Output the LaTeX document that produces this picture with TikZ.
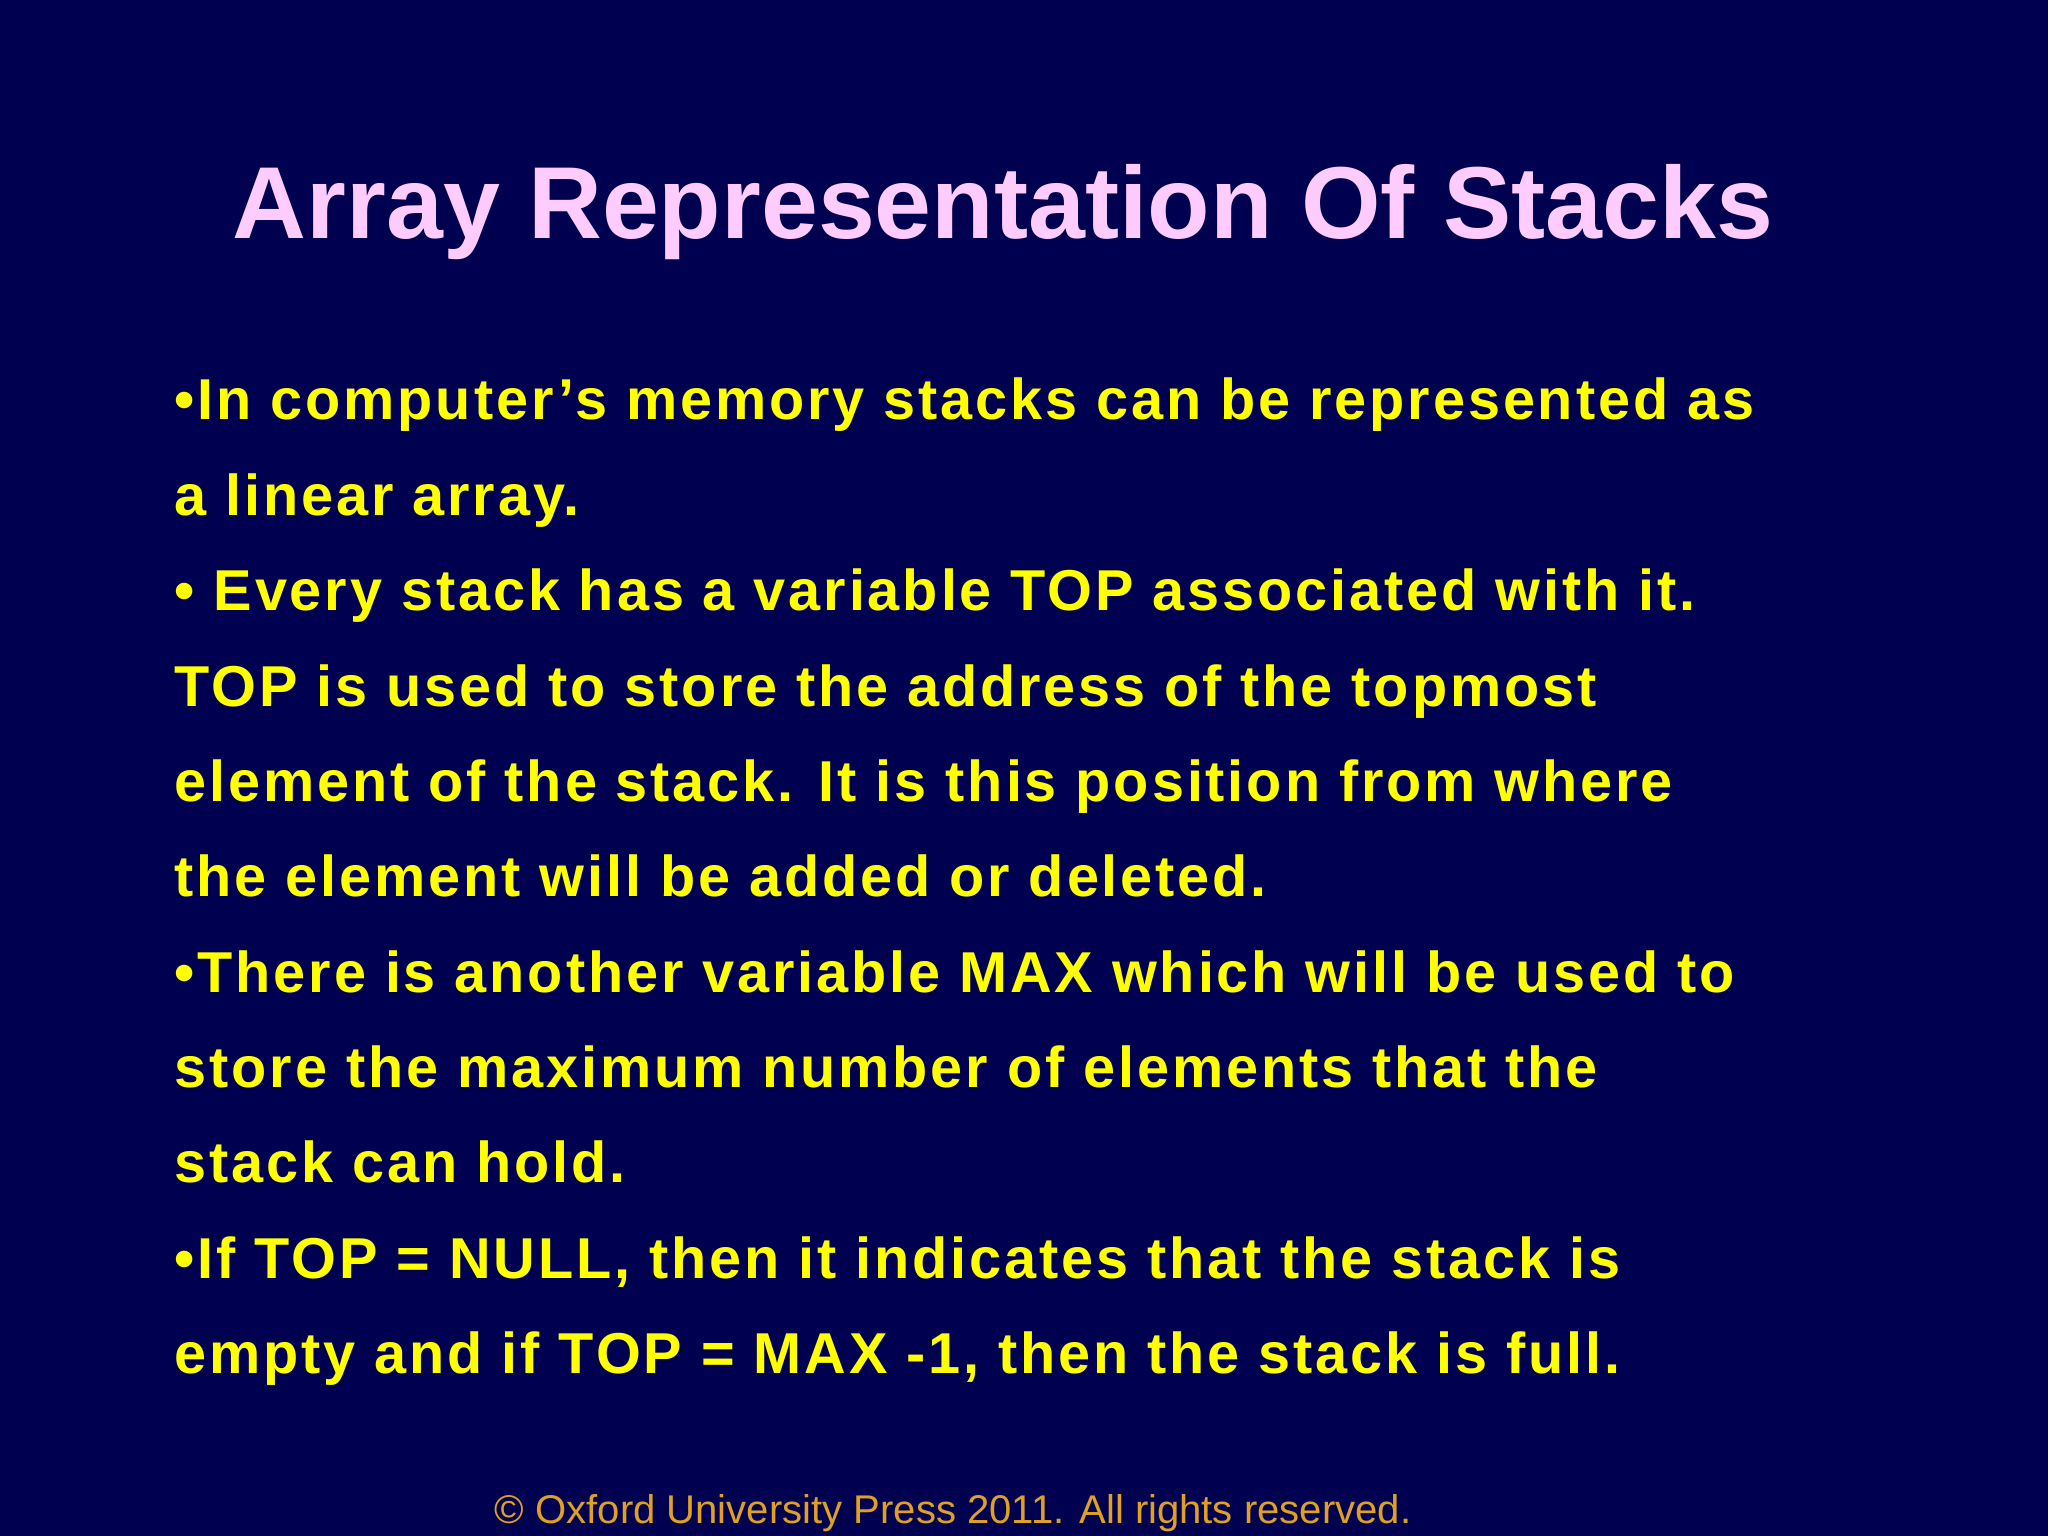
\documentclass[tikz,border=0pt]{standalone}
\usepackage{fontspec}
\setmainfont{Liberation Sans}
\definecolor{bg}{HTML}{000050}
\definecolor{ttl}{HTML}{FFCCFF}
\definecolor{txt}{HTML}{FFFF00}
\definecolor{cpy}{HTML}{E0A020}
\begin{document}
\begin{tikzpicture}
\tikzset{body/.style={anchor=base west,inner sep=0,text=txt,font=\fontsize{16.4}{18}\selectfont\bfseries\addfontfeature{LetterSpace=5}}}
\fill[bg] (0,0) rectangle (20.48,15.36);
\useasboundingbox (0,0) rectangle (20.48,15.36);
\node[anchor=base,inner sep=0,text=ttl,font=\fontsize{29.1}{34}\selectfont\bfseries] (title) at (10.03,12.97) {Array Representation Of Stacks};
\node[body] (l1) at (1.74,15.36-4.20) {•In computer’s memory stacks can be represented as};
\node[body] (l2) at (1.74,15.36-5.16) {a linear array.};
\node[body] (l3) at (1.74,15.36-6.11) {• Every stack has a variable TOP associated with it.};
\node[body] (l4) at (1.74,15.36-7.07) {TOP is used to store the address of the topmost};
\node[body] (l5) at (1.74,15.36-8.02) {element of the stack. It is this position from where};
\node[body] (l6) at (1.74,15.36-8.97) {the element will be added or deleted.};
\node[body] (l7) at (1.74,15.36-9.93) {•There is another variable MAX which will be used to};
\node[body] (l8) at (1.74,15.36-10.88) {store the maximum number of elements that the};
\node[body] (l9) at (1.74,15.36-11.83) {stack can hold.};
\node[body] (l10) at (1.74,15.36-12.79) {•If TOP = NULL, then it indicates that the stack is};
\node[body] (l11) at (1.74,15.36-13.74) {empty and if TOP = MAX -1, then the stack is full.};
\node[anchor=base,inner sep=0,text=cpy,font=\fontsize{11.4}{13}\selectfont] (copy) at (9.53,15.36-15.24) {© Oxford University Press 2011. All rights reserved.};
\end{tikzpicture}
\end{document}
